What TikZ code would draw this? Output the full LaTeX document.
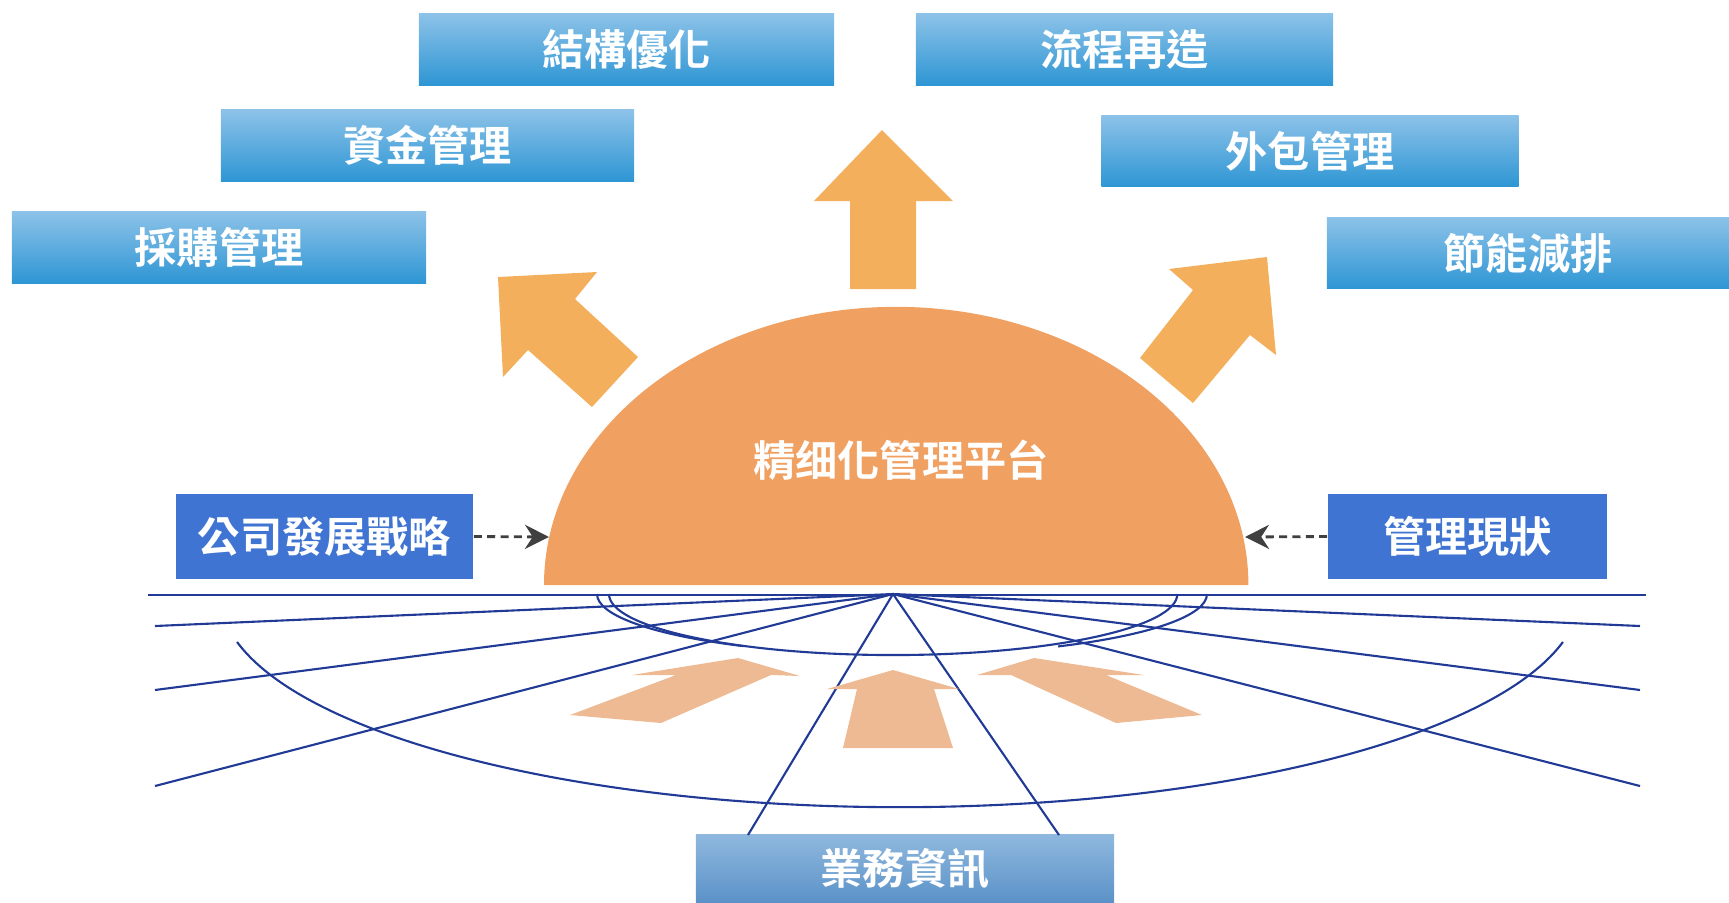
\documentclass[tikz,border=0pt]{standalone}
\usepackage{fontspec}
\newfontfamily\cjk{Noto Sans CJK TC}[UprightFont=* Bold]
\usetikzlibrary{arrows.meta}
\definecolor{skytop}{RGB}{140,194,232}
\definecolor{skybot}{RGB}{46,150,212}
\definecolor{royal}{RGB}{63,116,210}
\definecolor{infotop}{RGB}{142,184,222}
\definecolor{infobot}{RGB}{92,146,200}
\definecolor{domeorange}{RGB}{240,160,96}
\definecolor{arroworange}{RGB}{244,175,92}
\definecolor{peach}{RGB}{237,186,148}
\definecolor{navy}{RGB}{32,58,150}
\begin{document}
\begin{tikzpicture}[x=0.01cm, y=-0.01cm,
  every node/.style={text=white, inner sep=0pt, font=\cjk\fontsize{12pt}{14pt}\selectfont},
  topic/.style={rectangle, top color=skytop, bottom color=skybot, minimum height=0.71cm},
  source/.style={rectangle, fill=royal, minimum height=0.85cm},
  feed/.style={dashed, dash pattern=on 2.3pt off 1.5pt, line width=0.8pt, black!75, -{Stealth[length=2.4mm, width=2.4mm]}},
  fanline/.style={navy, line width=0.6pt},
  bigarrow/.style={fill=arroworange},
  lowarrow/.style={fill=peach}]
	\useasboundingbox (0,0) rectangle (1729,902);
	
	% result boxes
	\node[topic, minimum width=4.15cm] (structure) at (626.5,49.5) {結構優化};
	\node[topic, minimum width=4.17cm] (process) at (1124.5,49.5) {流程再造};
	\node[topic, minimum width=4.13cm] (funds) at (427.5,145.5) {資金管理};
	\node[topic, minimum width=4.17cm] (outsource) at (1310,151) {外包管理};
	\node[topic, minimum width=4.14cm] (purchase) at (219,247.5) {採購管理};
	\node[topic, minimum width=4.02cm] (energy) at (1528,253) {節能減排};
	
	% inputs
	\node[source, minimum width=2.97cm] (strategy) at (324.5,536.5) {公司發展戰略};
	\node[source, minimum width=2.79cm] (status) at (1467.5,536.5) {管理現狀};
	\node[rectangle, top color=infotop, bottom color=infobot, minimum width=4.18cm, minimum height=0.67cm] (info) at (905,868.5) {業務資訊};
	
	% fan of lines
	\coordinate (fan) at (893,594);
	\draw[fanline, line width=0.8pt] (148,595) -- (1646,595);
	\foreach \ex/\ey in {155/626, 155/690, 155/786, 1640/626, 1640/690, 1640/786, 748/835, 1059/835}
		\draw[fanline] (fan) -- (\ex,\ey);
	\draw[fanline] (609,594) arc[start angle=180, end angle=360, x radius=2.84cm, y radius=0.61cm];
	\draw[fanline] (597,594) arc[start angle=180, end angle=238.6, x radius=3.05cm, y radius=0.61cm];
	\draw[fanline] (1207,594) arc[start angle=0, end angle=-59.2, x radius=3.05cm, y radius=0.61cm];
	\draw[fanline] ([shift={(193:6.8cm and 2.13cm)}]900,594) arc[start angle=193, end angle=347, x radius=6.8cm, y radius=2.13cm];
	
	% arrows under the platform
	\fill[lowarrow] (738,658) -- (800,676) -- (771,675) -- (661,723) -- (570,715) -- (676,675) -- (632,675) -- cycle;
	\fill[lowarrow] (893,670) -- (959,689) -- (934,689) -- (953,748) -- (843,748) -- (857,689) -- (827,689) -- cycle;
	\fill[lowarrow] (1034,658) -- (1144,675) -- (1106,675) -- (1202,715) -- (1116,723) -- (1011,675) -- (977,675) -- cycle;
	
	% platform
	\fill[domeorange] (544,585) arc[start angle=180, end angle=0, x radius=3.52cm, y radius=2.78cm] -- cycle;
	\node (platform) at (901,460) {精细化管理平台};
	\coordinate (domeL) at (549,537);
	\coordinate (domeR) at (1245,537);
	\draw[feed] (strategy.east) -- (domeL);
	\draw[feed] (status.west) -- (domeR);
	
	% arrows out of the platform
	\fill[bigarrow] (882,130) -- (953,201) -- (916,201) -- (916,289) -- (850,289) -- (850,201) -- (814,201) -- cycle;
	\fill[bigarrow] (498,277) -- (597,272) -- (575,299) -- (638,357) -- (592,407) -- (528,350) -- (503,377) -- cycle;
	\fill[bigarrow] (1267,257) -- (1276,355) -- (1250,335) -- (1193,403) -- (1140,358) -- (1193,290) -- (1169,269) -- cycle;
\end{tikzpicture}
\end{document}
